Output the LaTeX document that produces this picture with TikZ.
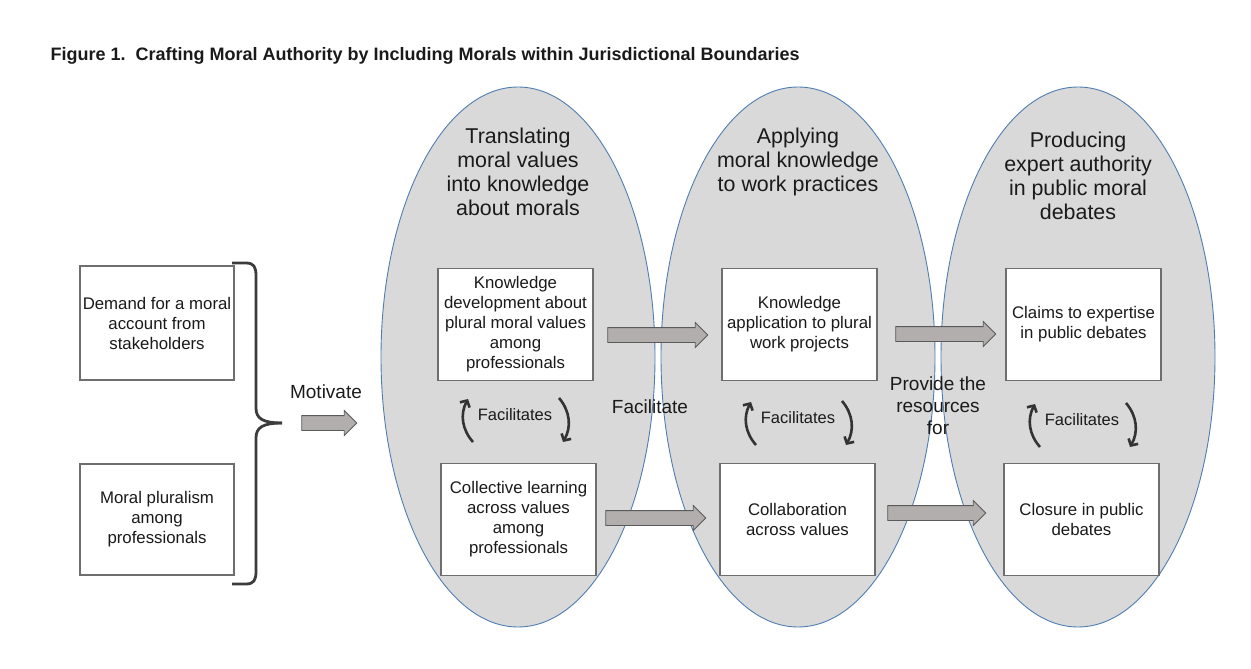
\documentclass[tikz,border=0pt]{standalone}
\usepackage{fontspec}
\setmainfont{Liberation Sans}
\usetikzlibrary{arrows.meta, shapes.arrows, positioning}

\definecolor{ovalfill}{HTML}{D9D9D9}
\definecolor{ovaledge}{HTML}{4F7DB3}
\definecolor{boxedge}{HTML}{6E6E6E}
\definecolor{arrowfill}{HTML}{B3AEAE}
\definecolor{arrowedge}{HTML}{5A5A5A}
\definecolor{curlgray}{HTML}{333333}
\definecolor{bracegray}{HTML}{3C3C3C}
\definecolor{inkblack}{HTML}{1A1A1A}

\begin{document}
\begin{tikzpicture}[x=1pt, y=-1pt,
    textbox/.style={draw=boxedge, line width=1.1pt, fill=white, minimum width=155pt, minimum height=112pt, inner sep=0pt, align=center, font=\fontsize{16.8}{20}\selectfont, text=inkblack},
    oval/.style={fill=ovalfill, draw=ovaledge, line width=0.9pt},
    heading/.style={align=center, font=\fontsize{21.4}{24}\selectfont, text=inkblack},
    linklabel/.style={align=center, font=\fontsize{19}{22}\selectfont, text=inkblack},
    faclabel/.style={font=\fontsize{16.5}{20}\selectfont, text=inkblack},
    blockarrow/.style={single arrow, draw=arrowedge, fill=arrowfill, line width=0.9pt, inner sep=7pt, minimum width=24pt, single arrow head extend=5pt, single arrow head indent=0pt},
    cyclearrow/.style={line width=2.6pt, draw=curlgray, -{Straight Barb[length=5pt, width=11pt]}},
    bracket/.style={line width=2.8pt, draw=bracegray, line join=round}]

    \useasboundingbox (0,0) rectangle (1251,669);

    % Title
    \node[anchor=west, font=\fontsize{18}{20}\selectfont\bfseries, text=inkblack] (title) at (47,56) {Figure 1.\ \ Crafting Moral Authority by Including Morals within Jurisdictional Boundaries};

    % Ovals
    \foreach \cx in {518,798,1078}
        \draw[oval] (\cx,357) ellipse [x radius=137pt, y radius=270pt];

    % Oval headings
    \node[heading] (head1) at (518,172) {Translating\\moral values\\into knowledge\\about morals};
    \node[heading] (head2) at (798,162) {Applying\\moral knowledge\\to work practices};
    \node[heading] (head3) at (1078,176) {Producing\\expert authority\\in public moral\\debates};

    % Conditions on the left
    \node[textbox, minimum width=154pt, minimum height=114pt] (demand) at (157,323) {Demand for a moral\\account from\\stakeholders};
    \node[textbox, minimum width=154pt, minimum height=111pt] (plural) at (157,519.5) {Moral pluralism\\among\\professionals};

    % Brace
    \draw[bracket] (232,263) -- (246,263) .. controls (254,263) and (256,267) .. (256,276) -- (256,408) .. controls (256,418) and (262,423) .. (282,423);
    \draw[bracket] (232,584) -- (246,584) .. controls (254,584) and (256,580) .. (256,571) -- (256,438) .. controls (256,428) and (262,423) .. (282,423);

    % Motivate
    \node[linklabel] (motivate) at (326,392) {Motivate};
    \node[blockarrow, minimum height=55pt] (arrmot) at (325.5,423) {};

    % First oval
    \node[textbox] (develop) at (515.5,324.5) {Knowledge\\development about\\plural moral values\\among\\professionals};
    \node[textbox] (learn) at (518.5,519.5) {Collective learning\\across values\\among\\professionals};
    \node[faclabel] (fac1) at (515,415) {Facilitates};

    % Second oval
    \node[textbox] (apply) at (799.5,324.5) {Knowledge\\application to plural\\work projects};
    \node[textbox] (collab) at (797.5,519.5) {Collaboration\\across values};
    \node[faclabel] (fac2) at (798,418) {Facilitates};

    % Third oval
    \node[textbox] (claims) at (1083.5,324.5) {Claims to expertise\\in public debates};
    \node[textbox] (closure) at (1081.5,519.5) {Closure in public\\debates};
    \node[faclabel] (fac3) at (1082,420) {Facilitates};

    % Facilitates cycles
    \foreach \f in {fac1,fac2,fac3} {
        \draw[cyclearrow] ([shift={(-42,27)}]\f.center) to[bend left=35] ([shift={(-47,-16)}]\f.center);
        \draw[cyclearrow] ([shift={(44,-17)}]\f.center) to[bend left=35] ([shift={(48,27)}]\f.center);
    }

    % Links between ovals
    \node[blockarrow, minimum height=100pt] (arrdev) at (654,335) {};
    \node[blockarrow, minimum height=100pt] (arrlearn) at (652,518) {};
    \node[blockarrow, minimum height=100pt] (arrapply) at (942,334) {};
    \node[blockarrow, minimum height=98pt] (arrcollab) at (933,513) {};
    \node[linklabel] (facilitate) at (650,407) {Facilitate};
    \node[linklabel] (provide) at (938,406) {Provide the\\resources\\for};

\end{tikzpicture}
\end{document}
